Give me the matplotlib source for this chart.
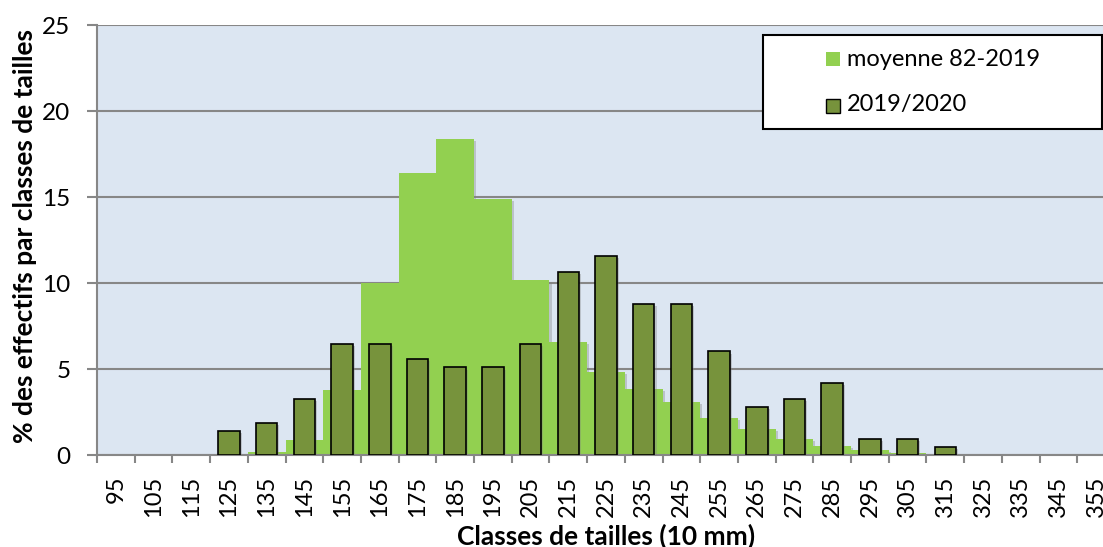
import numpy as np
import matplotlib
matplotlib.use('Agg')
import matplotlib.pyplot as plt
import matplotlib.patheffects as pe
from matplotlib.patches import Rectangle

plt.rcParams['font.family'] = ['Lato', 'DejaVu Sans']

# classes de tailles (10 mm)
classes = [95, 105, 115, 125, 135, 145, 155, 165, 175, 185, 195, 205, 215, 225,
           235, 245, 255, 265, 275, 285, 295, 305, 315, 325, 335, 345, 355]

# % des effectifs
moyenne = [0, 0, 0, 0, 0.15, 0.87, 3.78, 10.0, 16.4, 18.35, 14.9, 10.2, 6.57, 4.85,
           3.82, 3.08, 2.13, 1.49, 0.91, 0.52, 0.29, 0.14, 0.05, 0, 0, 0, 0]
saison = [0, 0, 0, 1.39, 1.85, 3.24, 6.48, 6.48, 5.56, 5.09, 5.09, 6.48, 10.65, 11.57,
          8.80, 8.80, 6.02, 2.78, 3.24, 4.17, 0.93, 0.93, 0.46, 0, 0, 0, 0]

vert_clair = '#92d050'
vert_fonce = '#77933c'
fond = '#dce6f2'
gris = '#878787'

fig = plt.figure(figsize=(11.03, 5.47), dpi=100)
ax = fig.add_axes([97/1103, 92/547, 1018/1103, 430/547])
ax.set_facecolor(fond)

x = np.arange(len(classes))
m = np.array(moyenne)
s = np.array(saison)

ombre = [pe.SimplePatchShadow(offset=(1.5, -1.5), shadow_rgbFace='#808080', alpha=0.35), pe.Normal()]

b1 = ax.bar(x[m > 0], m[m > 0], width=1.0, color=vert_clair, linewidth=0, zorder=2)
for p in b1:
    p.set_path_effects(ombre)
b2 = ax.bar(x[s > 0], s[s > 0], width=0.57, color=vert_fonce, edgecolor='black',
            linewidth=1.2, zorder=3)
for p in b2:
    p.set_path_effects(ombre)

ax.set_xlim(-0.5, len(classes) - 0.5)
ax.set_ylim(0, 25)
ax.set_yticks([0, 5, 10, 15, 20, 25])
ax.yaxis.grid(True, color=gris, linewidth=1.5, zorder=1)
ax.set_axisbelow(True)

ax.set_xticks(x)
ax.set_xticklabels([str(c) for c in classes], rotation=90)
ax.set_xticks(np.arange(len(classes) + 1) - 0.5, minor=True)
ax.tick_params(axis='x', which='major', length=0, pad=15, labelsize=17)
ax.tick_params(axis='x', which='minor', length=6, width=1.5, color=gris)
ax.tick_params(axis='y', length=7, width=1.5, color=gris, pad=12, labelsize=17.5)

for side in ['top', 'right']:
    ax.spines[side].set_visible(False)
for side in ['left', 'bottom']:
    ax.spines[side].set_color(gris)
    ax.spines[side].set_linewidth(1.5)

fig.text(606/1103, 1 - 536/547, 'Classes de tailles (10 mm)', fontsize=19,
         fontweight='bold', ha='center', va='center')
fig.text(25/1103, 1 - 236/547, '% des effectifs par classes de tailles', fontsize=19,
         fontweight='bold', ha='center', va='center', rotation=90)

# légende
fig.add_artist(Rectangle((763/1103, 1 - 129/547), 339/1103, 94/547, transform=fig.transFigure,
                         facecolor='white', edgecolor='black', linewidth=1.5, zorder=5))
fig.add_artist(Rectangle((826/1103, 1 - 66/547), 14/1103, 14/547, transform=fig.transFigure,
                         facecolor=vert_clair, edgecolor='none', zorder=6))
fig.add_artist(Rectangle((826/1103, 1 - 113/547), 14/1103, 14/547, transform=fig.transFigure,
                         facecolor=vert_fonce, edgecolor='black', linewidth=1, zorder=6))
fig.text(847/1103, 1 - 59/547, 'moyenne 82-2019', fontsize=17, va='center', zorder=7)
fig.text(847/1103, 1 - 105/547, '2019/2020', fontsize=17, va='center', zorder=7)

fig.savefig('out.png', dpi=100)
